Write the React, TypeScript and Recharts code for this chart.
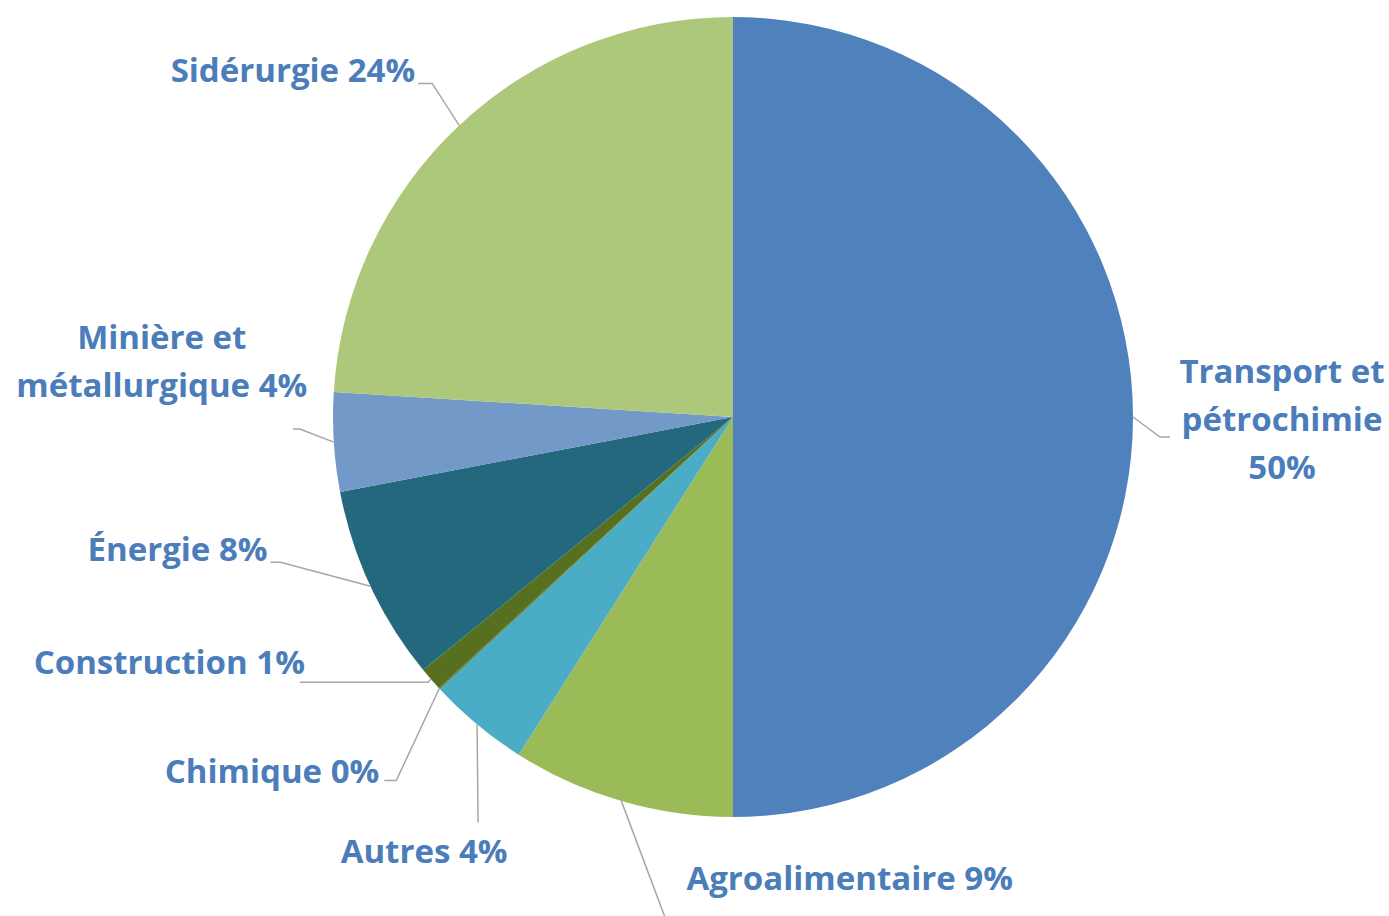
import { PieChart, Pie, Cell } from 'recharts';

const categories = [
  'Transport et\npétrochimie',
  'Agroalimentaire',
  'Autres',
  'Chimique',
  'Construction',
  'Énergie',
  'Minière et\nmétallurgique',
  'Sidérurgie',
];
const shares = [50, 9, 4.1, 0.05, 0.95, 7.9, 4, 24];
const colors = ['#4F81BD', '#9BBB59', '#4BACC6', '#56701F', '#56701F', '#23687C', '#7399C9', '#ADC87A'];

// leader line / label placement relative to the slice's outer midpoint
const labelLayout = [
  { elbow: [27, 20], tail: 10, text: [149, -47], anchor: 'middle', breakPct: true },
  { elbow: [45, 120], tail: 0, text: [65, 76], anchor: 'start' },
  { elbow: [1, 98], tail: 0, text: [-53, 126], anchor: 'middle' },
  { elbow: [-43, 92], tail: -12, text: [-60, 82], anchor: 'end' },
  { elbow: [-3, 3], tail: -128, text: [-126, -18], anchor: 'end' },
  { elbow: [-90, -24], tail: -10, text: [-103, -38], anchor: 'end' },
  { elbow: [-34, -13], tail: -7, text: [-172, -106], anchor: 'middle' },
  { elbow: [-27, -42], tail: -14, text: [-44, -56], anchor: 'end' },
];

const data = categories.map((name, i) => ({ name, value: shares[i] }));

const RAD = Math.PI / 180;
const LINE_H = 48;

const renderLabel = (props: any) => {
  const { cx, cy, midAngle, outerRadius, index, percent, name } = props;
  const lay = labelLayout[index];
  const ox = cx + outerRadius * Math.cos(-midAngle * RAD);
  const oy = cy + outerRadius * Math.sin(-midAngle * RAD);
  const ex = ox + lay.elbow[0];
  const ey = oy + lay.elbow[1];
  const pct = `${Math.round(percent * 100)}%`;
  const parts = String(name).split('\n');
  let lines: string[];
  if (lay.breakPct) lines = [...parts, pct];
  else {
    lines = [...parts];
    lines[lines.length - 1] = `${lines[lines.length - 1]} ${pct}`;
  }
  return (
    <g key={`lbl-${index}`}>
      <polyline
        points={`${ox},${oy} ${ex},${ey} ${ex + lay.tail},${ey}`}
        fill="none"
        stroke="#A6A6A6"
        strokeWidth={1.5}
      />
      <text
        x={ox + lay.text[0]}
        y={oy + lay.text[1]}
        textAnchor={lay.anchor}
        fill="#4A7DBA"
        fontFamily="'Open Sans', Lato, sans-serif"
        fontWeight={700}
        fontSize={33}
      >
        {lines.map((l, k) => (
          <tspan key={k} x={ox + lay.text[0]} dy={k === 0 ? 0 : LINE_H} dominantBaseline="central">
            {l}
          </tspan>
        ))}
      </text>
    </g>
  );
};

export default function App() {
  return (
    <div style={{ position: 'absolute', left: 0, top: 0, background: '#fff' }}>
      <PieChart width={1389} height={916} margin={{ top: 0, right: 0, bottom: 0, left: 0 }}>
        <Pie
          data={data}
          dataKey="value"
          nameKey="name"
          cx={733}
          cy={417}
          outerRadius={400}
          startAngle={90}
          endAngle={-270}
          stroke="none"
          label={renderLabel}
          labelLine={false}
          isAnimationActive={false}
        >
          {data.map((d, i) => (
            <Cell key={d.name} fill={colors[i]} />
          ))}
        </Pie>
      </PieChart>
    </div>
  );
}
